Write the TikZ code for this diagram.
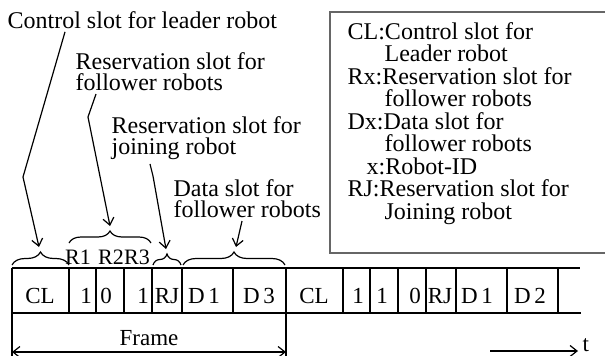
\documentclass[tikz,border=0pt]{standalone}
\usepackage{fontspec}
\setmainfont{Liberation Serif}
\usetikzlibrary{arrows.meta,decorations.pathreplacing}
\begin{document}
\begin{tikzpicture}[x=1pt,y=-1pt,line width=1.3pt,
  txt/.style={font=\fontsize{24}{21}\selectfont,inner sep=0pt},
  lbl/.style={txt,align=left,anchor=north west},
  sl/.style={font=\fontsize{23}{23}\selectfont,inner sep=0pt,anchor=base},
  rl/.style={font=\fontsize{22}{22}\selectfont,inner sep=0pt,anchor=base},
  ptr/.style={-{Straight Barb[length=7pt,width=11pt]},line width=1.2pt},
  brc/.style={decorate,decoration={brace,amplitude=#1},line width=1.2pt},
  grid/.style={line width=1.3pt},
  legendbox/.style={draw=black!60,line width=1.2pt}]
\useasboundingbox (0,0) rectangle (605,356);
% labels
\node[txt,anchor=base west] (lctl) at (7,28) {Control slot for leader robot};
\node[lbl] (lrf) at (75,51.6) {Reservation slot for\\follower robots};
\node[lbl] (lrj) at (111,115.6) {Reservation slot for\\joining robot};
\node[lbl] (ldf) at (173,178.6) {Data slot for\\follower robots};
% legend
\draw[legendbox] (615,12) -- (330,12) -- (330,253) -- (615,253);
\node[lbl,font=\fontsize{24}{22.5}\selectfont] (legend) at (347,21.6)
  {CL:Control slot for\\\hspace*{37pt}Leader robot\\Rx:Reservation slot for\\\hspace*{37pt}follower robots\\Dx:Data slot for\\\hspace*{37pt}follower robots\\\hspace*{19pt}x:Robot-ID\\RJ:Reservation slot for\\\hspace*{37pt}Joining robot};
% slot grid
\draw[grid] (12,268) -- (580,268);
\draw[grid] (12,313) -- (581,313);
\draw[grid] (12,268) -- (12,356);
\draw[grid] (286,268) -- (286,356);
\foreach \x in {69,96,124,152,182,233,343,370,398,426,456,507,558}
  \draw[grid] (\x,268) -- (\x,313);
% slot labels
\node[sl] (s1) at (40,303) {CL};
\node[sl] (s2) at (86,303) {1};
\node[sl] (s3) at (106,303) {0};
\node[sl] (s4) at (143,303) {1};
\node[sl] (s5) at (167,303) {RJ};
\node[sl] (s6) at (204,303) {D\,1};
\node[sl] (s7) at (259,303) {D\,3};
\node[sl] (s8) at (314,303) {CL};
\node[sl] (s9) at (358,303) {1};
\node[sl] (s10) at (382,303) {1};
\node[sl] (s11) at (415,303) {0};
\node[sl] (s12) at (440,303) {RJ};
\node[sl] (s13) at (477,303) {D\,1};
\node[sl] (s14) at (530,303) {D\,2};
\node[rl] (r1) at (78,264) {R1};
\node[rl] (r2) at (111,264) {R2};
\node[rl] (r3) at (137,264) {R3};
% braces
\draw[brc=13pt] (12,265) -- (69,265);
\draw[brc=12pt] (69,243) -- (151,243);
\draw[brc=11pt] (153,265) -- (181,265);
\draw[brc=13pt] (183,265) -- (285,265);
\coordinate (tcl) at (39,247);
\coordinate (tr) at (110,226);
\coordinate (trj) at (166,249);
\coordinate (td) at (236,247);
% pointers
\draw[ptr] (lctl.south -| 65,0) ++(0,3) -- (23,177) -- (tcl);
\draw[ptr] (lrf.south -| 96,0) ++(0,3) -- (88,117) -- (tr);
\draw[ptr] (lrj.south -| 150,0) ++(0,4) -- (153,176) -- (trj);
\draw[ptr] (ldf.south -| 242,0) ++(0,3) -- (td);
% frame
\coordinate (fl) at (12,352);
\coordinate (fr) at (286,352);
\draw[{Straight Barb[length=7pt,width=11pt]}-{Straight Barb[length=7pt,width=11pt]},line width=1.2pt] (fl) -- (fr);
\node[sl] (frame) at (149,345) {Frame};
\coordinate (ts) at (490,351);
\coordinate (te) at (578,351);
\draw[ptr] (ts) -- (te);
\node[sl,anchor=base west] (t) at (582,351) {t};
\end{tikzpicture}
\end{document}
